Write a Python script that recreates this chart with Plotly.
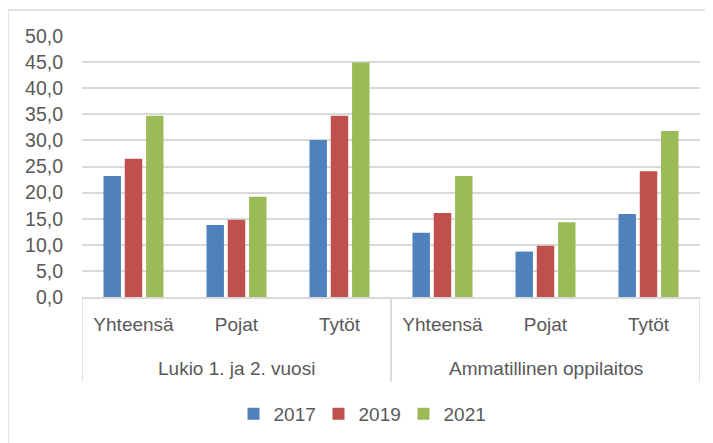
import plotly.graph_objects as go

groups = ["Lukio 1. ja 2. vuosi"] * 3 + ["Ammatillinen oppilaitos"] * 3
categories = ["Yhteensä", "Pojat", "Tytöt", "Yhteensä", "Pojat", "Tytöt"]
years = ["2017", "2019", "2021"]
v2017 = [23.2, 13.8, 30.1, 12.3, 8.7, 15.9]
v2019 = [26.5, 14.8, 34.7, 16.1, 9.8, 24.1]
v2021 = [34.7, 19.2, 44.9, 23.2, 14.3, 31.8]
colors = ["#4F81BD", "#C0504D", "#9BBB59"]
yticks = [0, 5, 10, 15, 20, 25, 30, 35, 40, 45, 50]

FONT = "Liberation Sans"
GREY = "#595959"
LINE = "#d9d9d9"
FS = 19

# page body has an 8px margin, so the figure is drawn from (8, 8)
OFF = 8
W, H = 713 - OFF, 443 - OFF
L, T, R, B = 82 - OFF, 36 - OFF, 700 - OFF, 298 - OFF
PW, PH = R - L, B - T

pos = list(range(len(categories)))

fig = go.Figure()
for name, vals, col in zip(years, [v2017, v2019, v2021], colors):
    fig.add_trace(go.Bar(x=pos, y=vals, name=name,
                         marker=dict(color=col, line=dict(width=0))))

def py(y_px):
    """page y pixel -> paper fraction"""
    return (298 - y_px) / PH

annotations = []
shapes = []
unique_groups = []
for g in groups:
    if g not in unique_groups:
        unique_groups.append(g)
for g in unique_groups:
    idx = [i for i, gg in enumerate(groups) if gg == g]
    annotations.append(dict(x=sum(idx) / len(idx), y=py(370), xref="x", yref="paper",
                            text=g, showarrow=False, xanchor="center", yanchor="middle",
                            font=dict(family=FONT, size=FS, color=GREY)))
    for edge in (min(idx) - 0.5, max(idx) + 0.5):
        shapes.append(dict(type="line", xref="x", yref="paper", x0=edge, x1=edge,
                           y0=0, y1=py(383), line=dict(color=LINE, width=1.5)))

shapes.append(dict(type="rect", xref="paper", yref="paper",
                   x0=(8 - 82) / PW, x1=(730 - 82) / PW,
                   y0=py(460), y1=py(10),
                   line=dict(color=LINE, width=1.5), fillcolor="rgba(0,0,0,0)", layer="below"))

fig.update_layout(
    width=W, height=H,
    margin=dict(l=L, r=W - R, t=T, b=H - B),
    paper_bgcolor="white", plot_bgcolor="white",
    separators=", ",
    barmode="group", bargap=0.38, bargroupgap=0.18,
    font=dict(family=FONT, size=FS, color=GREY),
    showlegend=True,
    legend=dict(orientation="h", x=(361 - 82) / PW, xanchor="center", y=py(414), yanchor="middle",
                font=dict(family=FONT, size=FS, color=GREY), traceorder="normal",
                itemwidth=30, entrywidth=40),
    xaxis=dict(range=[-0.5, len(categories) - 0.5], tickvals=pos, ticktext=categories,
               showline=True, linecolor=LINE, linewidth=1.5, ticks="", showgrid=False,
               zeroline=False, automargin=False, ticklabelstandoff=9,
               tickfont=dict(family=FONT, size=FS, color=GREY)),
    yaxis=dict(range=[0, 50], tickvals=yticks, tickformat=".1f", showgrid=True,
               gridcolor=LINE, gridwidth=1.5, zeroline=False, showline=False, automargin=False,
               tickfont=dict(family=FONT, size=19.5, color=GREY), ticklabelstandoff=18),
    annotations=annotations,
    shapes=shapes,
)

fig.write_html("out.html")
